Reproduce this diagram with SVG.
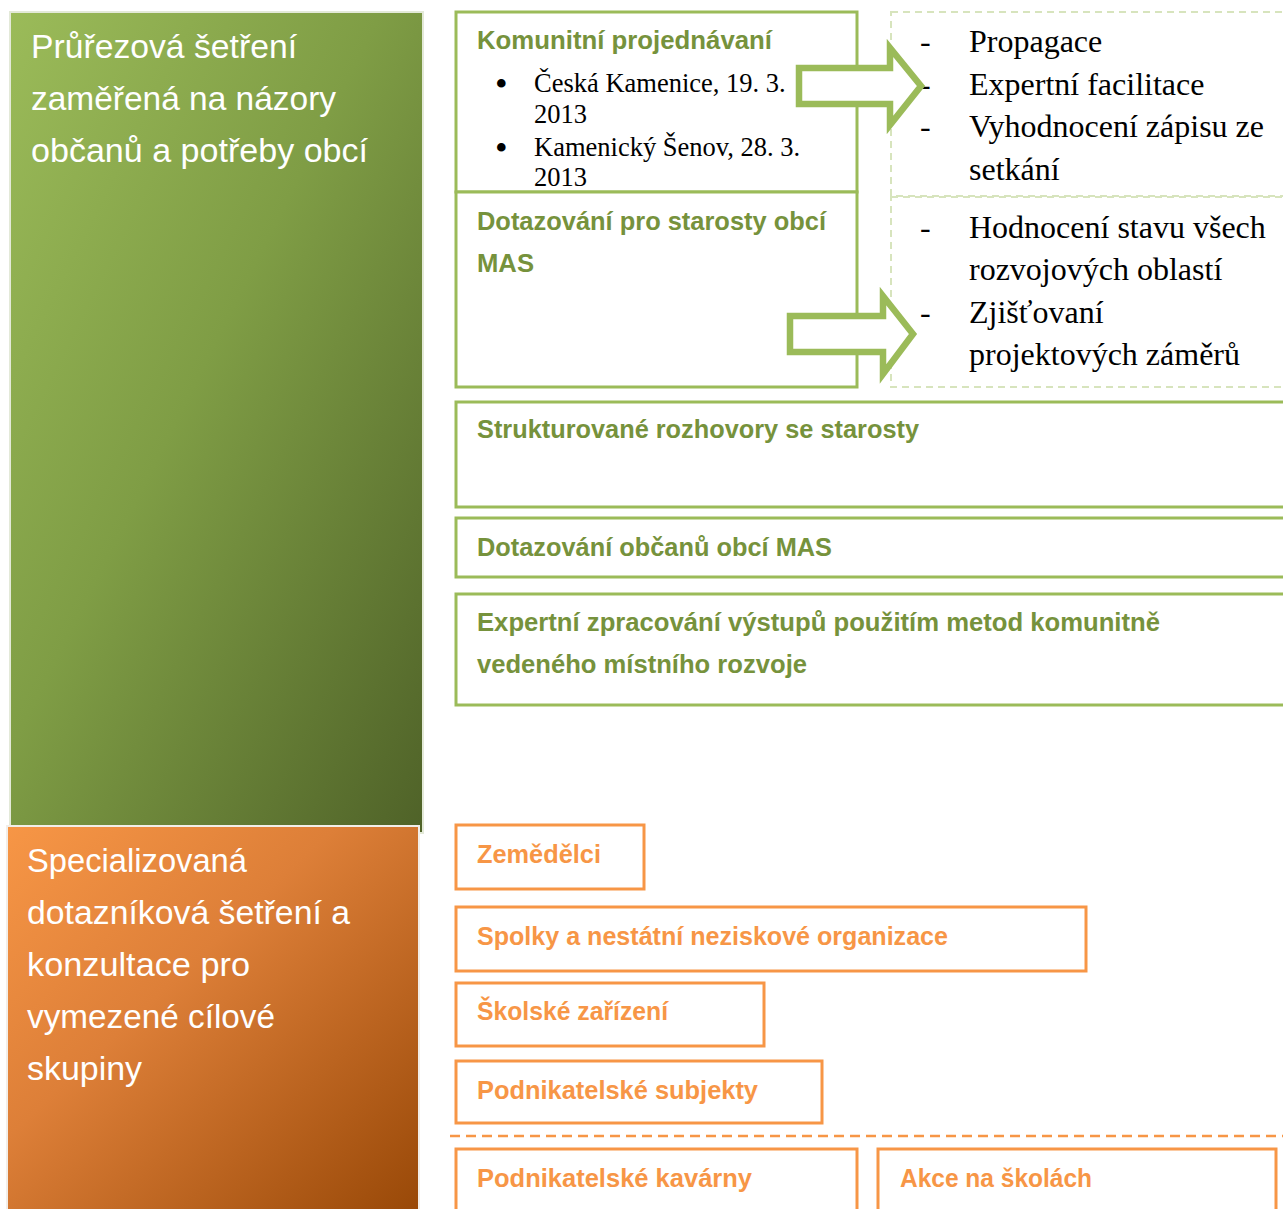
<svg xmlns="http://www.w3.org/2000/svg" width="1283" height="1209" viewBox="0 0 1283 1209">
<defs>
<linearGradient id="gGreen" x1="0" y1="0" x2="1" y2="1">
<stop offset="0" stop-color="#9bbb59"/>
<stop offset="0.45" stop-color="#7f9d45"/>
<stop offset="1" stop-color="#4f6228"/>
</linearGradient>
<linearGradient id="gOrange" x1="0" y1="0" x2="1" y2="1">
<stop offset="0" stop-color="#f79646"/>
<stop offset="0.4" stop-color="#dd7f38"/>
<stop offset="1" stop-color="#984807"/>
</linearGradient>
<style>
.big{font-family:"Liberation Sans",Arial,sans-serif;font-size:34px;fill:#ffffff}
.gt{font-family:"Liberation Sans",Arial,sans-serif;font-weight:bold;font-size:25.5px;fill:#76923c}
.ot{font-family:"Liberation Sans",Arial,sans-serif;font-weight:bold;font-size:25.5px;fill:#f79646}
.gbox{fill:#ffffff;stroke:#9bbb59;stroke-width:3}
.obox{fill:#ffffff;stroke:#f79646;stroke-width:3}
.dbox{fill:none;stroke:#d7e4bd;stroke-width:2;stroke-dasharray:7 5}
.s1{font-family:"Liberation Serif","Times New Roman",serif;font-size:26.5px;fill:#000000}
.bul{font-family:"Liberation Serif","Times New Roman",serif;font-size:36px;fill:#000000}
.s2{font-family:"Liberation Serif","Times New Roman",serif;font-size:32px;fill:#000000}
.arrow{fill:#ffffff;stroke:#9bbb59;stroke-width:6.5;stroke-linejoin:miter}
</style>
</defs>
<rect width="1283" height="1209" fill="#ffffff"/>

<g id="green-main">
<rect x="10" y="12" width="413" height="821" fill="url(#gGreen)" stroke="#e3e9d8" stroke-width="2"/>
<text class="big" x="31" y="58" textLength="266" lengthAdjust="spacingAndGlyphs">Průřezová šetření</text>
<text class="big" x="31" y="110" textLength="305" lengthAdjust="spacingAndGlyphs">zaměřená na názory</text>
<text class="big" x="31" y="162" textLength="337" lengthAdjust="spacingAndGlyphs">občanů a potřeby obcí</text>
</g>

<g id="orange-main">
<rect x="7" y="826" width="412" height="390" fill="url(#gOrange)" stroke="#f2eee9" stroke-width="2"/>
<text class="big" x="27" y="872" textLength="220" lengthAdjust="spacingAndGlyphs">Specializovaná</text>
<text class="big" x="27" y="924" textLength="323" lengthAdjust="spacingAndGlyphs">dotazníková šetření a</text>
<text class="big" x="27" y="976" textLength="223" lengthAdjust="spacingAndGlyphs">konzultace pro</text>
<text class="big" x="27" y="1028" textLength="248" lengthAdjust="spacingAndGlyphs">vymezené cílové</text>
<text class="big" x="27" y="1080" textLength="115" lengthAdjust="spacingAndGlyphs">skupiny</text>
</g>

<g id="komunitni">
<rect class="gbox" x="456" y="12" width="401" height="180"/>
<text class="gt" x="477" y="49" textLength="295" lengthAdjust="spacingAndGlyphs">Komunitní projednávaní</text>
<text class="bul" x="495" y="96">•</text>
<text class="s1" x="534" y="92">Česká Kamenice, 19. 3.</text>
<text class="s1" x="534" y="123">2013</text>
<text class="bul" x="495" y="160">•</text>
<text class="s1" x="534" y="156">Kamenický Šenov, 28. 3.</text>
<text class="s1" x="534" y="186">2013</text>
</g>

<g id="dotazovani-starosty">
<rect class="gbox" x="456" y="192" width="401" height="195"/>
<text class="gt" x="477" y="230" textLength="349" lengthAdjust="spacingAndGlyphs">Dotazování pro starosty obcí</text>
<text class="gt" x="477" y="272" textLength="57" lengthAdjust="spacingAndGlyphs">MAS</text>
</g>

<g id="list-komunitni">
<rect class="dbox" x="891" y="12" width="400" height="184"/>
<text class="s2" x="920" y="52">-</text>
<text class="s2" x="969" y="52">Propagace</text>
<text class="s2" x="920" y="95">-</text>
<text class="s2" x="969" y="95">Expertní facilitace</text>
<text class="s2" x="920" y="137">-</text>
<text class="s2" x="969" y="137">Vyhodnocení zápisu ze</text>
<text class="s2" x="969" y="180">setkání</text>
</g>

<g id="list-starosty">
<rect class="dbox" x="891" y="197" width="400" height="190"/>
<text class="s2" x="920" y="238">-</text>
<text class="s2" x="969" y="238">Hodnocení stavu všech</text>
<text class="s2" x="969" y="280">rozvojových oblastí</text>
<text class="s2" x="920" y="323">-</text>
<text class="s2" x="969" y="323">Zjišťovaní</text>
<text class="s2" x="969" y="365">projektových záměrů</text>
</g>

<g id="strukturovane">
<rect class="gbox" x="456" y="402" width="840" height="105"/>
<text class="gt" x="477" y="438" textLength="442" lengthAdjust="spacingAndGlyphs">Strukturované rozhovory se starosty</text>
</g>

<g id="dotazovani-obcanu">
<rect class="gbox" x="456" y="518" width="840" height="59"/>
<text class="gt" x="477" y="556" textLength="355" lengthAdjust="spacingAndGlyphs">Dotazování občanů obcí MAS</text>
</g>

<g id="expertni">
<rect class="gbox" x="456" y="594" width="840" height="111"/>
<text class="gt" x="477" y="631" textLength="683" lengthAdjust="spacingAndGlyphs">Expertní zpracování výstupů použitím metod komunitně</text>
<text class="gt" x="477" y="673" textLength="330" lengthAdjust="spacingAndGlyphs">vedeného místního rozvoje</text>
</g>

<g id="zemedelci">
<rect class="obox" x="456" y="825" width="188" height="64"/>
<text class="ot" x="477" y="863" textLength="124" lengthAdjust="spacingAndGlyphs">Zemědělci</text>
</g>

<g id="spolky">
<rect class="obox" x="456" y="907" width="630" height="64"/>
<text class="ot" x="477" y="945" textLength="471" lengthAdjust="spacingAndGlyphs">Spolky a nestátní neziskové organizace</text>
</g>

<g id="skolske">
<rect class="obox" x="456" y="983" width="308" height="63"/>
<text class="ot" x="477" y="1020" textLength="191" lengthAdjust="spacingAndGlyphs">Školské zařízení</text>
</g>

<g id="podnikatelske-subjekty">
<rect class="obox" x="456" y="1061" width="366" height="62"/>
<text class="ot" x="477" y="1099" textLength="281" lengthAdjust="spacingAndGlyphs">Podnikatelské subjekty</text>
</g>

<g id="separator">
<line x1="450" y1="1136" x2="1283" y2="1136" stroke="#f79646" stroke-width="2.5" stroke-dasharray="10 6"/>
</g>

<g id="kavarny">
<rect class="obox" x="456" y="1149" width="401" height="80"/>
<text class="ot" x="477" y="1187" textLength="275" lengthAdjust="spacingAndGlyphs">Podnikatelské kavárny</text>
</g>

<g id="akce-skoly">
<rect class="obox" x="878" y="1149" width="398" height="80"/>
<text class="ot" x="900" y="1187" textLength="192" lengthAdjust="spacingAndGlyphs">Akce na školách</text>
</g>

<g id="connectors">
<polygon class="arrow" points="799,68 890,68 890,48 921,86 890,125 890,104 799,104"/>
<polygon class="arrow" points="790,316 883,316 883,296 913,334 883,374 883,352 790,352"/>
</g>
</svg>
